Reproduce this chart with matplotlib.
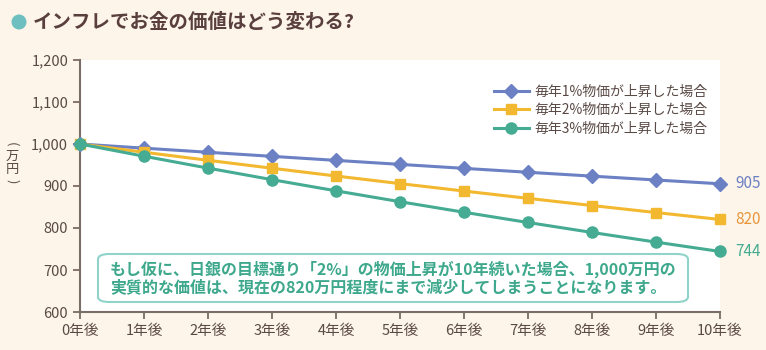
import matplotlib
matplotlib.use("Agg")
import matplotlib.pyplot as plt
from matplotlib.patches import FancyBboxPatch, Ellipse

plt.rcParams['font.family'] = ['Noto Sans CJK JP', 'DejaVu Sans']

years = list(range(11))
year_labels = [f"{y}年後" for y in years]
rate1 = [1000, 990.1, 980.3, 970.6, 961.0, 951.5, 942.0, 932.7, 923.5, 914.3, 905.3]
rate2 = [1000, 980.4, 961.2, 942.3, 923.8, 905.7, 888.0, 870.6, 853.5, 836.8, 820.3]
rate3 = [1000, 970.9, 942.6, 915.1, 888.5, 862.6, 837.5, 813.1, 789.4, 766.4, 744.1]
series_names = ["毎年1%物価が上昇した場合", "毎年2%物価が上昇した場合", "毎年3%物価が上昇した場合"]
end_labels = ["905", "820", "744"]
y_ticks = [600, 700, 800, 900, 1000, 1100, 1200]

BG = "#FDF5EA"
AXC = "#7A6C66"
TXT = "#5A4A45"
colors = ["#6C80C4", "#F2B830", "#45AB92"]
label_colors = ["#6C80C4", "#E8963A", "#45AB92"]
markers = ["D", "s", "o"]
msizes = [7, 7, 8]

fig = plt.figure(figsize=(7.66, 3.5), dpi=100, facecolor=BG)
ax = fig.add_axes([80 / 766, 1 - 312 / 350, 640 / 766, 252 / 350])
ax.set_facecolor("white")

for vals, name, c, m, ms in zip([rate1, rate2, rate3], series_names, colors, markers, msizes):
    ax.plot(years, vals, color=c, lw=2.2, marker=m, ms=ms, label=name, zorder=3, clip_on=False)

for vals, lab, c in zip([rate1, rate2, rate3], end_labels, label_colors):
    ax.annotate(lab, (years[-1], vals[-1]), xytext=(11, 0), textcoords="offset points",
                ha="left", va="center", color=c, fontsize=11,
                annotation_clip=False)

ax.set_xlim(0, 10)
ax.set_ylim(600, 1200)
ax.set_xticks(years)
ax.set_xticklabels(year_labels)
ax.set_yticks(y_ticks)
ax.set_yticklabels([f"{v:,}" for v in y_ticks])
for s in ["top", "right"]:
    ax.spines[s].set_visible(False)
for s in ["left", "bottom"]:
    ax.spines[s].set_color(AXC)
    ax.spines[s].set_linewidth(1.5)
ax.tick_params(colors=AXC, labelcolor=TXT, labelsize=10.5, length=5, width=1.3)
ax.tick_params(axis="x", pad=4)

leg = ax.legend(loc="upper right", bbox_to_anchor=(1.0, 0.95), frameon=False, fontsize=10,
                handlelength=2.5, labelspacing=0.3, handletextpad=0.4)
for t in leg.get_texts():
    t.set_color(TXT)

# vertical unit label
for ch, yy, rot in [("(", 144, -90), ("万", 156, 0), ("円", 169, 0), (")", 181, -90)]:
    fig.text(12 / 766, 1 - yy / 350, ch, ha="center", va="center", fontsize=9.5,
             color=TXT, rotation=rot)

# title
fig.patches.append(Ellipse((19 / 766, 1 - 22 / 350), 15 / 766, 15 / 350, transform=fig.transFigure,
                           facecolor="#6DBFC0", edgecolor="none"))
fig.text(33 / 766, 1 - 22 / 350, "インフレでお金の価値はどう変わる?", ha="left", va="center",
         fontsize=14, fontweight="bold", color="#5A3F3F")

# note box
box = FancyBboxPatch((98 / 766, 1 - 302 / 350), 590 / 766, 48 / 350,
                     boxstyle="round,pad=0,rounding_size=0.015", transform=fig.transFigure,
                     facecolor="white", edgecolor="#8FD3CA", linewidth=1.5, zorder=5)
fig.patches.append(box)
fig.text(110 / 766, 1 - 278 / 350,
         "もし仮に、日銀の目標通り「2%」の物価上昇が10年続いた場合、1,000万円の\n"
         "実質的な価値は、現在の820万円程度にまで減少してしまうことになります。",
         ha="left", va="center", fontsize=11.5, fontweight="bold", color="#3DA88C",
         linespacing=1.12, zorder=6)

fig.savefig("out.png", dpi=100, facecolor=BG)
